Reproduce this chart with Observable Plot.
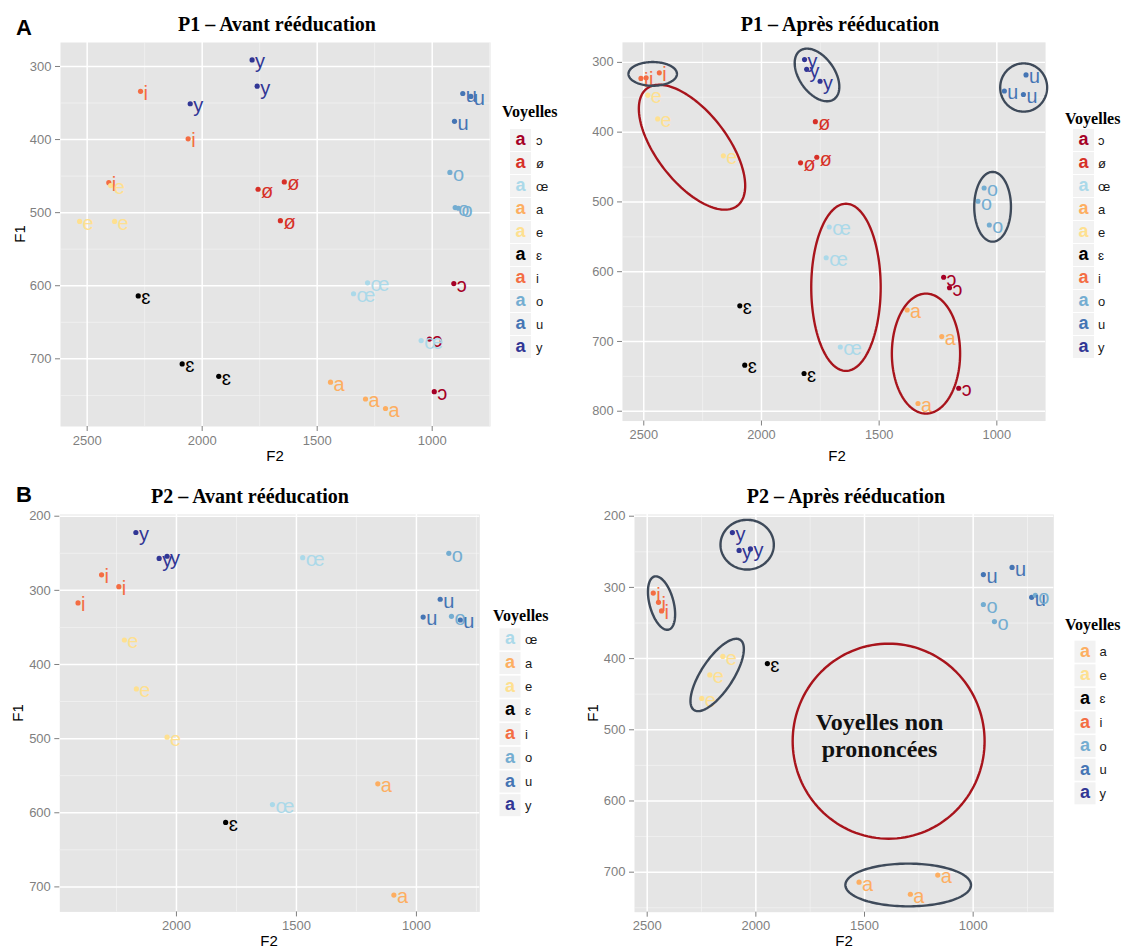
<!DOCTYPE html>
<html><head><meta charset="utf-8">
<script src="https://cdn.jsdelivr.net/npm/d3@7"></script>
<script src="https://cdn.jsdelivr.net/npm/@observablehq/plot@0.6"></script>
<style>
body{margin:0;background:#fff;}
#page{position:relative;width:1123px;height:949px;overflow:hidden;background:#fff;font-family:"Liberation Sans",Arial,sans-serif;}
.wrap{position:absolute;overflow:hidden;}
.wrap svg{position:absolute;}
</style></head><body><div id="page"></div>
<script>
// ---------- vowel categories and colours ----------
const vowelNames  = ["ɔ","ø","œ","a","e","ɛ","i","o","u","y"];
const vowelColors = ["#a50026","#d73027","#abd9e9","#fdae61","#fee090","#000000","#f46d43","#74add1","#4575b4","#313695"];

// ---------- P1 – Avant rééducation ----------
const p1AvantVowel = ["y","y","y","i","i","i","e","e","e","ɛ","ɛ","ɛ","ø","ø","ø","u","u","u","o","o","o","ɔ","ɔ","ɔ","œ","œ","œ","a","a","a"];
const p1AvantF2 = [1783,1761,2052, 2268,2061,2406, 2398,2533,2381, 2278,2087,1928, 1757,1643,1660, 867,832,903, 923,900,886, 906,1012,991, 1281,1342,1048, 1442,1290,1203];
const p1AvantF1 = [291,327,351, 334,399,459, 463,512,512, 614,707,724, 468,458,511, 337,341,375, 445,493,494, 597,673,745, 596,611,675, 732,755,768];

// ---------- P1 – Après rééducation ----------
const p1ApresVowel = ["i","i","i","e","e","e","y","y","y","ø","ø","ø","ɛ","ɛ","ɛ","œ","œ","œ","u","u","u","o","o","o","ɔ","ɔ","ɔ","a","a","a"];
const p1ApresF2 = [2512,2490,2434, 2483,2441,2162, 1817,1808,1751, 1771,1834,1765, 2092,2071,1819, 1712,1725,1665, 876,968,887, 1054,1080,1032, 1226,1201,1162, 1381,1234,1335];
const p1ApresF1 = [323,322,315, 347,381,434, 296,310,327, 385,444,436, 649,734,746, 536,580,708, 318,341,346, 480,499,533, 608,623,767, 655,693,789];

// ---------- P2 – Avant rééducation ----------
const p2AvantVowel = ["y","y","y","i","i","i","e","e","e","ɛ","œ","œ","o","o","u","u","u","a","a"];
const p2AvantF2 = [2169,2072,2039, 2312,2240,2410, 2217,2167,2039, 1795, 1600,1474, 865,854, 901,972,817, 1161,1094];
const p2AvantF1 = [222,257,254, 279,295,317, 367,433,498, 613, 589,256, 250,335, 312,336,340, 561,711];

// ---------- P2 – Après rééducation ----------
const p2ApresVowel = ["y","y","y","i","i","i","e","e","e","ɛ","u","u","u","o","o","o","a","a","a"];
const p2ApresF2 = [2108,2077,2025, 2472,2448,2434, 2152,2212,2249, 1947, 953,821,731, 953,902,714, 1525,1163,1289];
const p2ApresF1 = [223,248,246, 308,321,333, 397,423,456, 407, 282,272,314, 324,348,311, 714,704,731];

// ---------- tick labels ----------
const ticksF2A1 = [2500,2000,1500,1000], minorF2A1 = [2250,1750,1250,750];
const ticksF1A1 = [300,400,500,600,700], minorF1A1 = [350,450,550,650,750];
const ticksF2A2 = [2500,2000,1500,1000], minorF2A2 = [2250,1750,1250];
const ticksF1A2 = [300,400,500,600,700,800], minorF1A2 = [350,450,550,650,750];
const ticksF2B1 = [2000,1500,1000], minorF2B1 = [2250,1750,1250,750];
const ticksF1B1 = [200,300,400,500,600,700], minorF1B1 = [250,350,450,550,650];
const ticksF2B2 = [2500,2000,1500,1000], minorF2B2 = [2250,1750,1250,750];
const ticksF1B2 = [200,300,400,500,600,700], minorF1B2 = [250,350,450,550,650,750];

// ---------- annotation ellipses (centre + two conjugate semi-axes, data units) ----------
const ellA2Kind = ["slate","red","slate","slate","slate","red","red"];
const ellA2Cx = [2462, 2295, 1764, 886, 1018, 1641, 1301];
const ellA2Cy = [316.5, 421.6, 318, 336, 507, 622.4, 717.4];
const ellA2Ax = [103, -192.3, -72.1, 99.7, 78, 147.5, 145];
const ellA2Ay = [0, 84.0, 34.8, 0, 0, 0, 0];
const ellA2Bx = [0, -118.6, -61.6, 0, 0, 0, 0];
const ellA2By = [17, -31.0, -14.6, 34.6, 50, 119.8, 86];

const ellB2Kind = ["slate","slate","slate","red","slate"];
const ellB2Cx = [2040, 2434, 2178, 1389, 1299];
const ellB2Cy = [240, 322, 423, 516, 718];
const ellB2Ax = [122.7, -32.7, -106.3, 441.6, 289];
const ellB2Ay = [0, 37.3, -49.3, 0, 0];
const ellB2Bx = [0, -53.3, -61.5, 0, 0];
const ellB2By = [34.9, -4.4, 12.4, 137, 30];

const noteB2Text = ["Voyelles non\nprononcées"];
const noteB2F2 = [1431];
const noteB2F1 = [507.7];

// ---------- legends ----------
const legendA1 = ["ɔ","ø","œ","a","e","ɛ","i","o","u","y"];
const legendA2 = ["ɔ","ø","œ","a","e","ɛ","i","o","u","y"];
const legendB1 = ["œ","a","e","ɛ","i","o","u","y"];
const legendB2 = ["a","e","ɛ","i","o","u","y"];

const SANS = '"Liberation Sans", Arial, sans-serif';
const SERIF = '"Liberation Serif", "Times New Roman", serif';
const colorOf = v => vowelColors[vowelNames.indexOf(v)];

function rows(vs, f2, f1){ return vs.map((v,i)=>({v, F2:f2[i], F1:f1[i]})); }
function ellipses(kind,cx,cy,ax,ay,bx,by){
  const pts=[];
  cx.forEach((c,k)=>{
    for(let j=0;j<=144;j++){
      const t=2*Math.PI*j/144;
      pts.push({id:k, kind:kind[k], F2:c+ax[k]*Math.cos(t)+bx[k]*Math.sin(t), F1:cy[k]+ay[k]*Math.cos(t)+by[k]*Math.sin(t)});
    }
  });
  return pts;
}

function panel(cfg){
  const pts = rows(cfg.vowel, cfg.f2, cfg.f1);
  const marks = [
    Plot.frame({fill:"#e5e5e5", stroke:"none"}),
    Plot.ruleX(cfg.minorX, {stroke:"#f3f3f3", strokeWidth:0.7}),
    Plot.ruleY(cfg.minorY, {stroke:"#f3f3f3", strokeWidth:0.7}),
    Plot.ruleX(cfg.ticksX, {stroke:"#ffffff", strokeWidth:1.5}),
    Plot.ruleY(cfg.ticksY, {stroke:"#ffffff", strokeWidth:1.5}),
    Plot.axisX({ticks:cfg.ticksX, tickFormat:d3.format("d"), tickSize:5, tickPadding:4, color:"#7f7f7f", fontSize:13, label:null}),
    Plot.axisY({ticks:cfg.ticksY, tickFormat:d3.format("d"), tickSize:5, tickPadding:4, color:"#7f7f7f", fontSize:13, label:null}),
    Plot.dot(pts, {x:"F2", y:"F1", fill:"v", r:2.6}),
    Plot.text(pts, {x:"F2", y:"F1", text:"v", fill:"v", dx:3, dy:2, textAnchor:"start", fontSize:20, fontFamily:SANS})
  ];
  if (cfg.ell){
    marks.push(Plot.line(cfg.ell, {filter:d=>d.kind==="red", x:"F2", y:"F1", z:"id", stroke:"#a8141c", strokeWidth:2.4}));
    marks.push(Plot.line(cfg.ell, {filter:d=>d.kind==="slate", x:"F2", y:"F1", z:"id", stroke:"#3e4a5a", strokeWidth:2.4}));
  }
  if (cfg.note){
    marks.push(Plot.text(cfg.note, {x:"F2", y:"F1", text:"t", fontSize:24, fontWeight:"bold", fontFamily:SERIF, lineHeight:1.125, fill:"#111", textAnchor:"middle"}));
  }
  return Plot.plot({
    width:cfg.width, height:cfg.height,
    marginLeft:cfg.ml, marginRight:5, marginTop:10, marginBottom:30,
    style:{background:"transparent", fontFamily:SANS, overflow:"visible"},
    x:{domain:cfg.xd}, y:{domain:cfg.yd},
    color:{domain:vowelNames, range:vowelColors},
    marks
  });
}

const page = document.getElementById("page");
function place(plot, wrapLeft, wrapTop, svgOffset, w, h){
  const d = document.createElement("div");
  d.className="wrap";
  d.style.left=wrapLeft+"px"; d.style.top=wrapTop+"px";
  d.style.width=w+"px"; d.style.height=h+"px";
  plot.style.left=svgOffset+"px"; plot.style.top="0px";
  d.appendChild(plot); page.appendChild(d);
}

place(panel({vowel:p1AvantVowel,f2:p1AvantF2,f1:p1AvantF1,ticksX:ticksF2A1,minorX:minorF2A1,ticksY:ticksF1A1,minorY:minorF1A1,
  xd:[2616,746.5], yd:[792.6,267.2], width:495, height:424, ml:60}), 0, 32, 0, 500, 440);

place(panel({vowel:p1ApresVowel,f2:p1ApresF2,f1:p1ApresF1,ticksX:ticksF2A2,minorX:minorF2A2,ticksY:ticksF1A2,minorY:minorF1A2,
  xd:[2590.5,793], yd:[814.1,271.3], width:486.7, height:424, ml:52.7,
  ell:ellipses(ellA2Kind,ellA2Cx,ellA2Cy,ellA2Ax,ellA2Ay,ellA2Bx,ellA2By)}), 590, 32, -20, 480, 440);

place(panel({vowel:p2AvantVowel,f2:p2AvantF2,f1:p2AvantF1,ticksX:ticksF2B1,minorX:minorF2B1,ticksY:ticksF1B1,minorY:minorF1B1,
  xd:[2486,736], yd:[733.7,197.7], width:484.3, height:437.4, ml:59.3}), 0, 504.3, 0, 490, 445);

place(panel({vowel:p2ApresVowel,f2:p2ApresF2,f1:p2ApresF1,ticksX:ticksF2B2,minorX:minorF2B2,ticksY:ticksF1B2,minorY:minorF1B2,
  xd:[2558.4,629], yd:[756.2,197.6], width:478.3, height:437.7, ml:54,
  ell:ellipses(ellB2Kind,ellB2Cx,ellB2Cy,ellB2Ax,ellB2Ay,ellB2Bx,ellB2By),
  note:noteB2Text.map((t,i)=>({t, F2:noteB2F2[i], F1:noteB2F1[i]}))}), 580, 504, 0, 490, 445);

// ---------- titles, axis titles, legends (overlay) ----------
const svg = d3.select(page).append("svg").attr("width",1123).attr("height",949)
  .style("position","absolute").style("left","0px").style("top","0px").style("pointer-events","none");

function txt(x,y,s,opt){
  const t = svg.append("text").attr("x",x).attr("y",y).text(s)
    .attr("font-family",opt.family||SANS).attr("font-size",opt.size).attr("fill",opt.fill||"#000")
    .attr("font-weight",opt.weight||"normal").attr("text-anchor",opt.anchor||"start");
  if (opt.rotate) t.attr("transform",`rotate(-90,${x},${y})`);
  return t;
}
txt(16,35,"A",{size:22,weight:"bold"});
txt(16,502,"B",{size:22,weight:"bold"});
txt(277,31,"P1 – Avant rééducation",{family:SERIF,size:20,weight:"bold",anchor:"middle"});
txt(840,31,"P1 – Après rééducation",{family:SERIF,size:20,weight:"bold",anchor:"middle"});
txt(250,503,"P2 – Avant rééducation",{family:SERIF,size:20,weight:"bold",anchor:"middle"});
txt(846,503,"P2 – Après rééducation",{family:SERIF,size:20,weight:"bold",anchor:"middle"});
txt(275,461,"F2",{size:15,anchor:"middle"});
txt(837,461,"F2",{size:15,anchor:"middle"});
txt(269,946,"F2",{size:15,anchor:"middle"});
txt(844,946,"F2",{size:15,anchor:"middle"});
txt(25,234,"F1",{size:15,anchor:"middle",rotate:true});
txt(23,713,"F1",{size:15,anchor:"middle",rotate:true});
txt(598,713,"F1",{size:15,anchor:"middle",rotate:true});

function legend(names, titleX, titleY, rowY, step, boxX, labelX){
  txt(titleX, titleY+5.5, "Voyelles", {family:SERIF,size:16,weight:"bold"});
  names.forEach((v,k)=>{
    const y = rowY + k*step;
    svg.append("rect").attr("x",boxX).attr("y",y-11).attr("width",21).attr("height",22).attr("fill","#f2f2f2");
    txt(boxX+10.5, y+5, "a", {size:18, weight:"bold", anchor:"middle", fill:colorOf(v)});
    txt(labelX, y+4.5, v, {size:13, fill:"#1a1a1a"});
  });
}
legend(legendA1, 502, 111, 140, 23, 510, 536);
legend(legendA2, 1065, 118, 140, 23, 1073, 1098);
legend(legendB1, 493, 615, 639.3, 23.7, 499.5, 525);
legend(legendB2, 1065, 624, 651.7, 23.6, 1074.5, 1099.5);
</script></body></html>
